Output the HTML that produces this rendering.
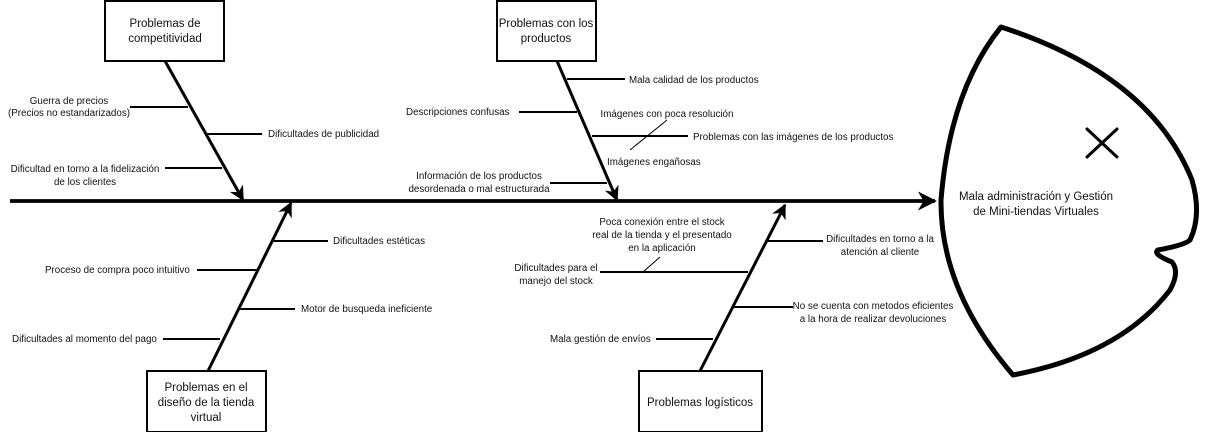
<!DOCTYPE html>
<html><head><meta charset="utf-8"><style>
html,body{margin:0;padding:0;background:#fff;}
svg{display:block;}
text{font-family:"Liberation Sans",Arial,sans-serif;fill:#111;}
.s{font-size:9.8px;}
.b{font-size:11.5px;}
</style></head><body>
<svg width="1207" height="432" viewBox="0 0 1207 432" xmlns="http://www.w3.org/2000/svg">
<defs>
<marker id="ah" viewBox="0 0 10 10" refX="9" refY="5" markerWidth="5" markerHeight="5" orient="auto" markerUnits="strokeWidth"><path d="M0,0 L10,5 L0,10 L3,5 z" fill="#000"/></marker>
</defs>
<g stroke="#000" fill="none">
<line x1="10" y1="201" x2="935" y2="201" stroke-width="3.8" marker-end="url(#ah)"/>
<line x1="165" y1="61" x2="243" y2="200" stroke-width="3" marker-end="url(#ah)"/>
<line x1="557" y1="61" x2="617" y2="200" stroke-width="3" marker-end="url(#ah)"/>
<line x1="208" y1="371" x2="291" y2="203" stroke-width="3" marker-end="url(#ah)"/>
<line x1="700" y1="371" x2="785" y2="205" stroke-width="3" marker-end="url(#ah)"/>
<g stroke-width="2">
<line x1="130" y1="107" x2="188" y2="107"/>
<line x1="207" y1="134" x2="262" y2="134"/>
<line x1="165" y1="168" x2="222" y2="168"/>
<line x1="567" y1="79" x2="625" y2="79"/>
<line x1="519" y1="112" x2="577" y2="112"/>
<line x1="592" y1="136" x2="688" y2="136"/>
<line x1="550" y1="183" x2="607" y2="183"/>
<line x1="272" y1="241" x2="328" y2="241"/>
<line x1="197" y1="270" x2="257" y2="270"/>
<line x1="240" y1="309" x2="295" y2="309"/>
<line x1="163" y1="339" x2="220" y2="339"/>
<line x1="767" y1="241" x2="823" y2="241"/>
<line x1="600" y1="272" x2="748" y2="272"/>
<line x1="733" y1="307" x2="793" y2="307"/>
<line x1="656" y1="339" x2="713" y2="339"/>
</g>
<line x1="630" y1="150" x2="667" y2="120" stroke-width="1"/>
<line x1="643" y1="272" x2="660" y2="257" stroke-width="1"/>
<rect x="105" y="1" width="119" height="60" stroke-width="2" fill="#fff"/>
<rect x="497" y="1" width="99" height="60" stroke-width="2" fill="#fff"/>
<rect x="147" y="371" width="119" height="61" stroke-width="2" fill="#fff"/>
<rect x="639" y="371" width="123" height="61" stroke-width="2" fill="#fff"/>
<path d="M1001,27 Q1150,75 1192,180 Q1202,215 1190,240 Q1185,245 1158,250 Q1152,254 1172,262 Q1180,272 1170,290 Q1120,355 1013,375 Q940,290 941,200 Q950,90 1001,27 Z" stroke-width="5" fill="#fff" stroke-linejoin="round"/>
<line x1="1087" y1="129" x2="1117" y2="157" stroke-width="3" stroke-linecap="round"/>
<line x1="1117" y1="129" x2="1087" y2="157" stroke-width="3" stroke-linecap="round"/>
</g>
<g class="b" text-anchor="middle">
<text x="165" y="27">Problemas de</text><text x="165" y="42">competitividad</text>
<text x="546" y="27">Problemas con los</text><text x="546" y="42">productos</text>
<text x="206" y="391">Problemas en el</text><text x="206" y="406">diseño de la tienda</text><text x="206" y="421">virtual</text>
<text x="700" y="406">Problemas logísticos</text>
<text x="1036" y="200">Mala administración y Gestión</text>
<text x="1036" y="215">de Mini-tiendas Virtuales</text>
</g>
<g class="s">
<text x="69" y="104" text-anchor="middle">Guerra de precios</text>
<text x="69" y="116" text-anchor="middle">(Precios no estandarizados)</text>
<text x="268" y="137">Dificultades de publicidad</text>
<text x="85" y="172" text-anchor="middle">Dificultad en torno a la fidelización</text>
<text x="85" y="185" text-anchor="middle">de los clientes</text>
<text x="629" y="83">Mala calidad de los productos</text>
<text x="406" y="115">Descripciones  confusas</text>
<text x="667" y="117" text-anchor="middle">Imágenes con poca resolución</text>
<text x="693" y="140">Problemas con las imágenes de los productos</text>
<text x="607" y="165">Imágenes engañosas</text>
<text x="479" y="179" text-anchor="middle">Información de los productos</text>
<text x="479" y="192" text-anchor="middle">desordenada o mal estructurada</text>
<text x="333" y="244">Dificultades estéticas</text>
<text x="45" y="273">Proceso de compra poco intuitivo</text>
<text x="301" y="312">Motor de busqueda ineficiente</text>
<text x="12" y="342">Dificultades al momento del pago</text>
<text x="662" y="225" text-anchor="middle">Poca conexión entre el stock</text>
<text x="662" y="238" text-anchor="middle">real de la tienda y el presentado</text>
<text x="662" y="251" text-anchor="middle">en la aplicación</text>
<text x="556" y="271" text-anchor="middle">Dificultades para el</text>
<text x="556" y="284" text-anchor="middle">manejo del stock</text>
<text x="880" y="242" text-anchor="middle">Dificultades en torno a la</text>
<text x="880" y="255" text-anchor="middle">atención al cliente</text>
<text x="873" y="309" text-anchor="middle">No se cuenta con metodos eficientes</text>
<text x="873" y="322" text-anchor="middle">a la hora de realizar devoluciones</text>
<text x="550" y="342">Mala gestión de envíos</text>
</g>
</svg>
</body></html>
